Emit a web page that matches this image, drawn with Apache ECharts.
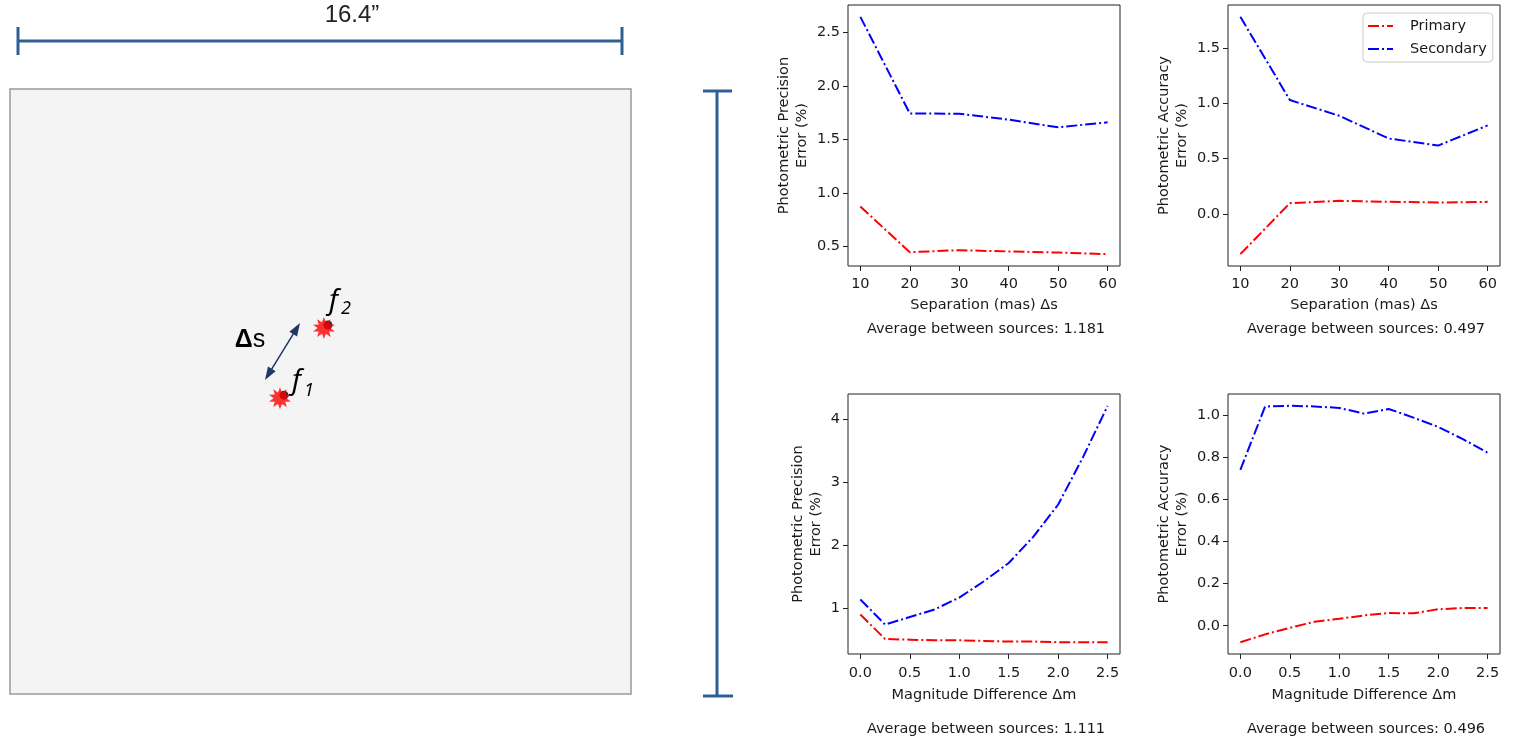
<!DOCTYPE html>
<html><head><meta charset="utf-8">
<script src="https://cdn.jsdelivr.net/npm/echarts@6/dist/echarts.min.js"></script>
<style>html,body{margin:0;padding:0;background:#fff}#c{width:1522px;height:752px}</style>
</head><body><div id="c"></div>
<script>
// ---------- data ----------
const sepX = [10, 20, 30, 40, 50, 60];
const sepPrecPrimary   = [0.873, 0.446, 0.465, 0.453, 0.443, 0.428];
const sepPrecSecondary = [2.645, 1.742, 1.740, 1.685, 1.613, 1.660];
const sepAccPrimary    = [-0.364, 0.097, 0.118, 0.109, 0.103, 0.109];
const sepAccSecondary  = [1.782, 1.030, 0.887, 0.682, 0.618, 0.800];
const magX = [0, 0.25, 0.5, 0.75, 1.0, 1.25, 1.5, 1.75, 2.0, 2.25, 2.5];
const magPrecPrimary   = [0.90, 0.51, 0.50, 0.49, 0.49, 0.48, 0.47, 0.47, 0.46, 0.46, 0.46];
const magPrecSecondary = [1.14, 0.74, 0.86, 0.98, 1.17, 1.43, 1.72, 2.14, 2.65, 3.40, 4.22];
const magAccPrimary    = [-0.078, -0.041, -0.010, 0.019, 0.033, 0.049, 0.060, 0.059, 0.078, 0.084, 0.084];
const magAccSecondary  = [0.739, 1.040, 1.043, 1.040, 1.033, 1.006, 1.028, 0.987, 0.943, 0.885, 0.821];
const sepTicks = [10, 20, 30, 40, 50, 60];
const magTicks = [0, 0.5, 1.0, 1.5, 2.0, 2.5];
const yTicksSepPrec = [0.5, 1.0, 1.5, 2.0, 2.5];
const yTicksSepAcc  = [0.0, 0.5, 1.0, 1.5];
const yTicksMagPrec = [1, 2, 3, 4];
const yTicksMagAcc  = [0.0, 0.2, 0.4, 0.6, 0.8, 1.0];
const averages = ['1.181', '0.497', '1.111', '0.496'];
const sourceNames = ['Primary', 'Secondary'];
const fieldSize = 16.4; // arcsec
const sourcePositions = [[7.13, 8.02], [8.29, 9.92]];

// ---------- helpers ----------
const FONT = 'DejaVu Sans';
const FS = 14.5;
const TXT = '#1a1a1a';
function padRange(arrs) {
  const all = [].concat(...arrs);
  const mn = Math.min(...all), mx = Math.max(...all), r = mx - mn;
  return [mn - 0.05 * r, mx + 0.05 * r];
}
const grids = [
  {left: 848, top: 5, width: 272, height: 261},
  {left: 1228, top: 5, width: 272, height: 261},
  {left: 848, top: 394, width: 272, height: 260},
  {left: 1228, top: 394, width: 272, height: 260}
].map(g => Object.assign(g, {show: true, borderColor: '#222', borderWidth: 1, backgroundColor: 'transparent'}));
grids.push({left: 10, top: 89, width: 621, height: 605, show: false});

function xAxis(gi, xs, ticks, name, dec, gap, margin) {
  const [mn, mx] = padRange([xs]);
  return {
    type: 'value', gridIndex: gi, min: mn, max: mx,
    name: name, nameLocation: 'middle', nameGap: gap,
    nameTextStyle: {fontFamily: FONT, fontSize: FS, color: TXT},
    axisLine: {show: false, onZero: false},
    axisTick: {show: true, length: 5, customValues: ticks, lineStyle: {color: '#222'}},
    axisLabel: {customValues: ticks, margin: margin, fontFamily: FONT, fontSize: FS, color: TXT,
      formatter: v => v.toFixed(dec)},
    splitLine: {show: false}
  };
}
function yAxis(gi, arrs, ticks, name, dec, gap) {
  const [mn, mx] = padRange(arrs);
  return {
    type: 'value', gridIndex: gi, min: mn, max: mx,
    name: name, nameLocation: 'middle', nameRotate: 90, nameGap: gap,
    nameTextStyle: {fontFamily: FONT, fontSize: FS, lineHeight: 18, color: TXT},
    axisLine: {show: false, onZero: false},
    axisTick: {show: true, length: 5, customValues: ticks, lineStyle: {color: '#222'}},
    axisLabel: {customValues: ticks, margin: 8, fontFamily: FONT, fontSize: FS, color: TXT,
      formatter: v => v.toFixed(dec)},
    splitLine: {show: false}
  };
}
const DASH = [11, 3, 2, 3];
function lineSeries(gi, name, xs, ys, color) {
  return {
    type: 'line', name: name, xAxisIndex: gi, yAxisIndex: gi,
    data: xs.map((x, i) => [x, ys[i]]), symbol: 'none', showSymbol: false,
    lineStyle: {color: color, width: 2, type: DASH, cap: 'butt'},
    itemStyle: {color: color}, animation: false, z: 3
  };
}
function starPath(n, ro, ri) {
  let d = '';
  for (let i = 0; i < 2 * n; i++) {
    const a = Math.PI * i / n - Math.PI / 2, r = i % 2 ? ri : ro;
    d += (i ? 'L' : 'M') + (r * Math.cos(a)).toFixed(2) + ' ' + (r * Math.sin(a)).toFixed(2);
  }
  return 'path://' + d + 'Z';
}
function arrowHead(tx, ty, ux, uy, len, half) {
  const bx = tx - ux * len, by = ty - uy * len, px = -uy, py = ux;
  return [[tx, ty], [bx + px * half, by + py * half], [bx - px * half, by - py * half]];
}

// ---------- schematic (left) ----------
const BAR = '#2f5f94';
const NAVY = '#1f3864';
const a1 = [300, 323], a2 = [265, 380];
const dl = Math.hypot(a1[0] - a2[0], a1[1] - a2[1]);
const ux = (a1[0] - a2[0]) / dl, uy = (a1[1] - a2[1]) / dl;
const graphics = [
  {type: 'text', x: 352, y: 15, style: {text: '16.4”', font: '24px "Liberation Sans"', fill: '#222', align: 'center', verticalAlign: 'middle'}},
  {type: 'line', shape: {x1: 18, y1: 41, x2: 622, y2: 41}, style: {stroke: BAR, lineWidth: 3}},
  {type: 'line', shape: {x1: 18, y1: 27, x2: 18, y2: 55}, style: {stroke: BAR, lineWidth: 3}},
  {type: 'line', shape: {x1: 622, y1: 27, x2: 622, y2: 55}, style: {stroke: BAR, lineWidth: 3}},
  {type: 'rect', z: -10, shape: {x: 10, y: 89, width: 621, height: 605}, style: {fill: '#f4f4f4', stroke: '#9a9a9a', lineWidth: 1.5}},
  {type: 'line', shape: {x1: 717, y1: 91, x2: 717, y2: 696}, style: {stroke: BAR, lineWidth: 3}},
  {type: 'line', shape: {x1: 703, y1: 91, x2: 732, y2: 91}, style: {stroke: BAR, lineWidth: 3}},
  {type: 'line', shape: {x1: 703, y1: 696, x2: 733, y2: 696}, style: {stroke: BAR, lineWidth: 3}},
  {type: 'line', shape: {x1: a2[0] + ux * 8, y1: a2[1] + uy * 8, x2: a1[0] - ux * 8, y2: a1[1] - uy * 8}, style: {stroke: NAVY, lineWidth: 1.5}},
  {type: 'polygon', shape: {points: arrowHead(a1[0], a1[1], ux, uy, 13, 4.5)}, style: {fill: NAVY}},
  {type: 'polygon', shape: {points: arrowHead(a2[0], a2[1], -ux, -uy, 13, 4.5)}, style: {fill: NAVY}},
  {type: 'text', x: 250, y: 340, style: {
    text: '{b|Δ}{r|s}', align: 'center', verticalAlign: 'middle',
    rich: {b: {fontFamily: 'Liberation Sans', fontWeight: 'bold', fontSize: 25, fill: '#000'},
           r: {fontFamily: 'Liberation Sans', fontSize: 25, fill: '#000'}}}},
  {type: 'text', x: 329, y: 287, style: {text: 'f', font: 'italic 28px "Noto Sans"', fill: '#000'}},
  {type: 'text', x: 341, y: 300, style: {text: '2', font: 'italic 18px "Noto Sans"', fill: '#000'}},
  {type: 'text', x: 292, y: 367, style: {text: 'f', font: 'italic 28px "Noto Sans"', fill: '#000'}},
  {type: 'text', x: 304, y: 382, style: {text: '1', font: 'italic 18px "Noto Sans"', fill: '#000'}}
];
// "Average between sources" captions
const capPos = [[986, 329], [1366, 329], [986, 729], [1366, 729]];
averages.forEach((a, i) => graphics.push({type: 'text', x: capPos[i][0], y: capPos[i][1],
  style: {text: 'Average between sources: ' + a, font: FS + 'px "DejaVu Sans"', fill: TXT, align: 'center', verticalAlign: 'middle'}}));

const LEGEND_ICON = 'path://M0 0H11V2H0Z M14 0H16V2H14Z M19 0H25V2H19Z';
const option = {
  animation: false,
  backgroundColor: '#fff',
  grid: grids,
  legend: {
    data: sourceNames.map(n => ({name: n, icon: LEGEND_ICON})),
    orient: 'vertical', left: 1363, top: 13,
    itemWidth: 25, itemHeight: 2, itemGap: 5,
    padding: [4, 6, 4, 5], borderColor: '#ccc', borderWidth: 1, borderRadius: 4,
    backgroundColor: '#fff',
    textStyle: {fontFamily: FONT, fontSize: FS, color: TXT, padding: [0, 0, 0, 12], lineHeight: 18}
  },
  xAxis: [
    xAxis(0, sepX, sepTicks, 'Separation (mas) Δs', 0, 32, 11),
    xAxis(1, sepX, sepTicks, 'Separation (mas) Δs', 0, 32, 11),
    xAxis(2, magX, magTicks, 'Magnitude Difference Δm', 1, 34, 12),
    xAxis(3, magX, magTicks, 'Magnitude Difference Δm', 1, 34, 12),
    {type: 'value', gridIndex: 4, min: 0, max: fieldSize, show: false}
  ],
  yAxis: [
    yAxis(0, [sepPrecPrimary, sepPrecSecondary], yTicksSepPrec, 'Photometric Precision\nError (%)', 1, 37),
    yAxis(1, [sepAccPrimary, sepAccSecondary], yTicksSepAcc, 'Photometric Accuracy\nError (%)', 1, 37),
    yAxis(2, [magPrecPrimary, magPrecSecondary], yTicksMagPrec, 'Photometric Precision\nError (%)', 0, 23),
    yAxis(3, [magAccPrimary, magAccSecondary], yTicksMagAcc, 'Photometric Accuracy\nError (%)', 1, 37),
    {type: 'value', gridIndex: 4, min: 0, max: fieldSize, show: false}
  ],
  series: [
    lineSeries(0, 'Primary', sepX, sepPrecPrimary, '#ff0000'),
    lineSeries(0, 'Secondary', sepX, sepPrecSecondary, '#0000ff'),
    lineSeries(1, 'Primary', sepX, sepAccPrimary, '#ff0000'),
    lineSeries(1, 'Secondary', sepX, sepAccSecondary, '#0000ff'),
    lineSeries(2, 'Primary', magX, magPrecPrimary, '#ff0000'),
    lineSeries(2, 'Secondary', magX, magPrecSecondary, '#0000ff'),
    lineSeries(3, 'Primary', magX, magAccPrimary, '#ff0000'),
    lineSeries(3, 'Secondary', magX, magAccSecondary, '#0000ff'),
    {type: 'scatter', name: 'core', xAxisIndex: 4, yAxisIndex: 4, data: sourcePositions,
     symbol: 'circle', symbolSize: 9, symbolOffset: [4, -3], itemStyle: {color: '#000'}, z: 2, silent: true},
    {type: 'scatter', name: 'sources', xAxisIndex: 4, yAxisIndex: 4, data: sourcePositions,
     symbol: starPath(10, 10, 5.5), symbolSize: 22, itemStyle: {color: '#ff0000'}, z: 3, silent: true}
  ],
  graphic: graphics
};
const chart = echarts.init(document.getElementById('c'), null, {renderer: 'canvas'});
chart.setOption(option);
</script></body></html>
